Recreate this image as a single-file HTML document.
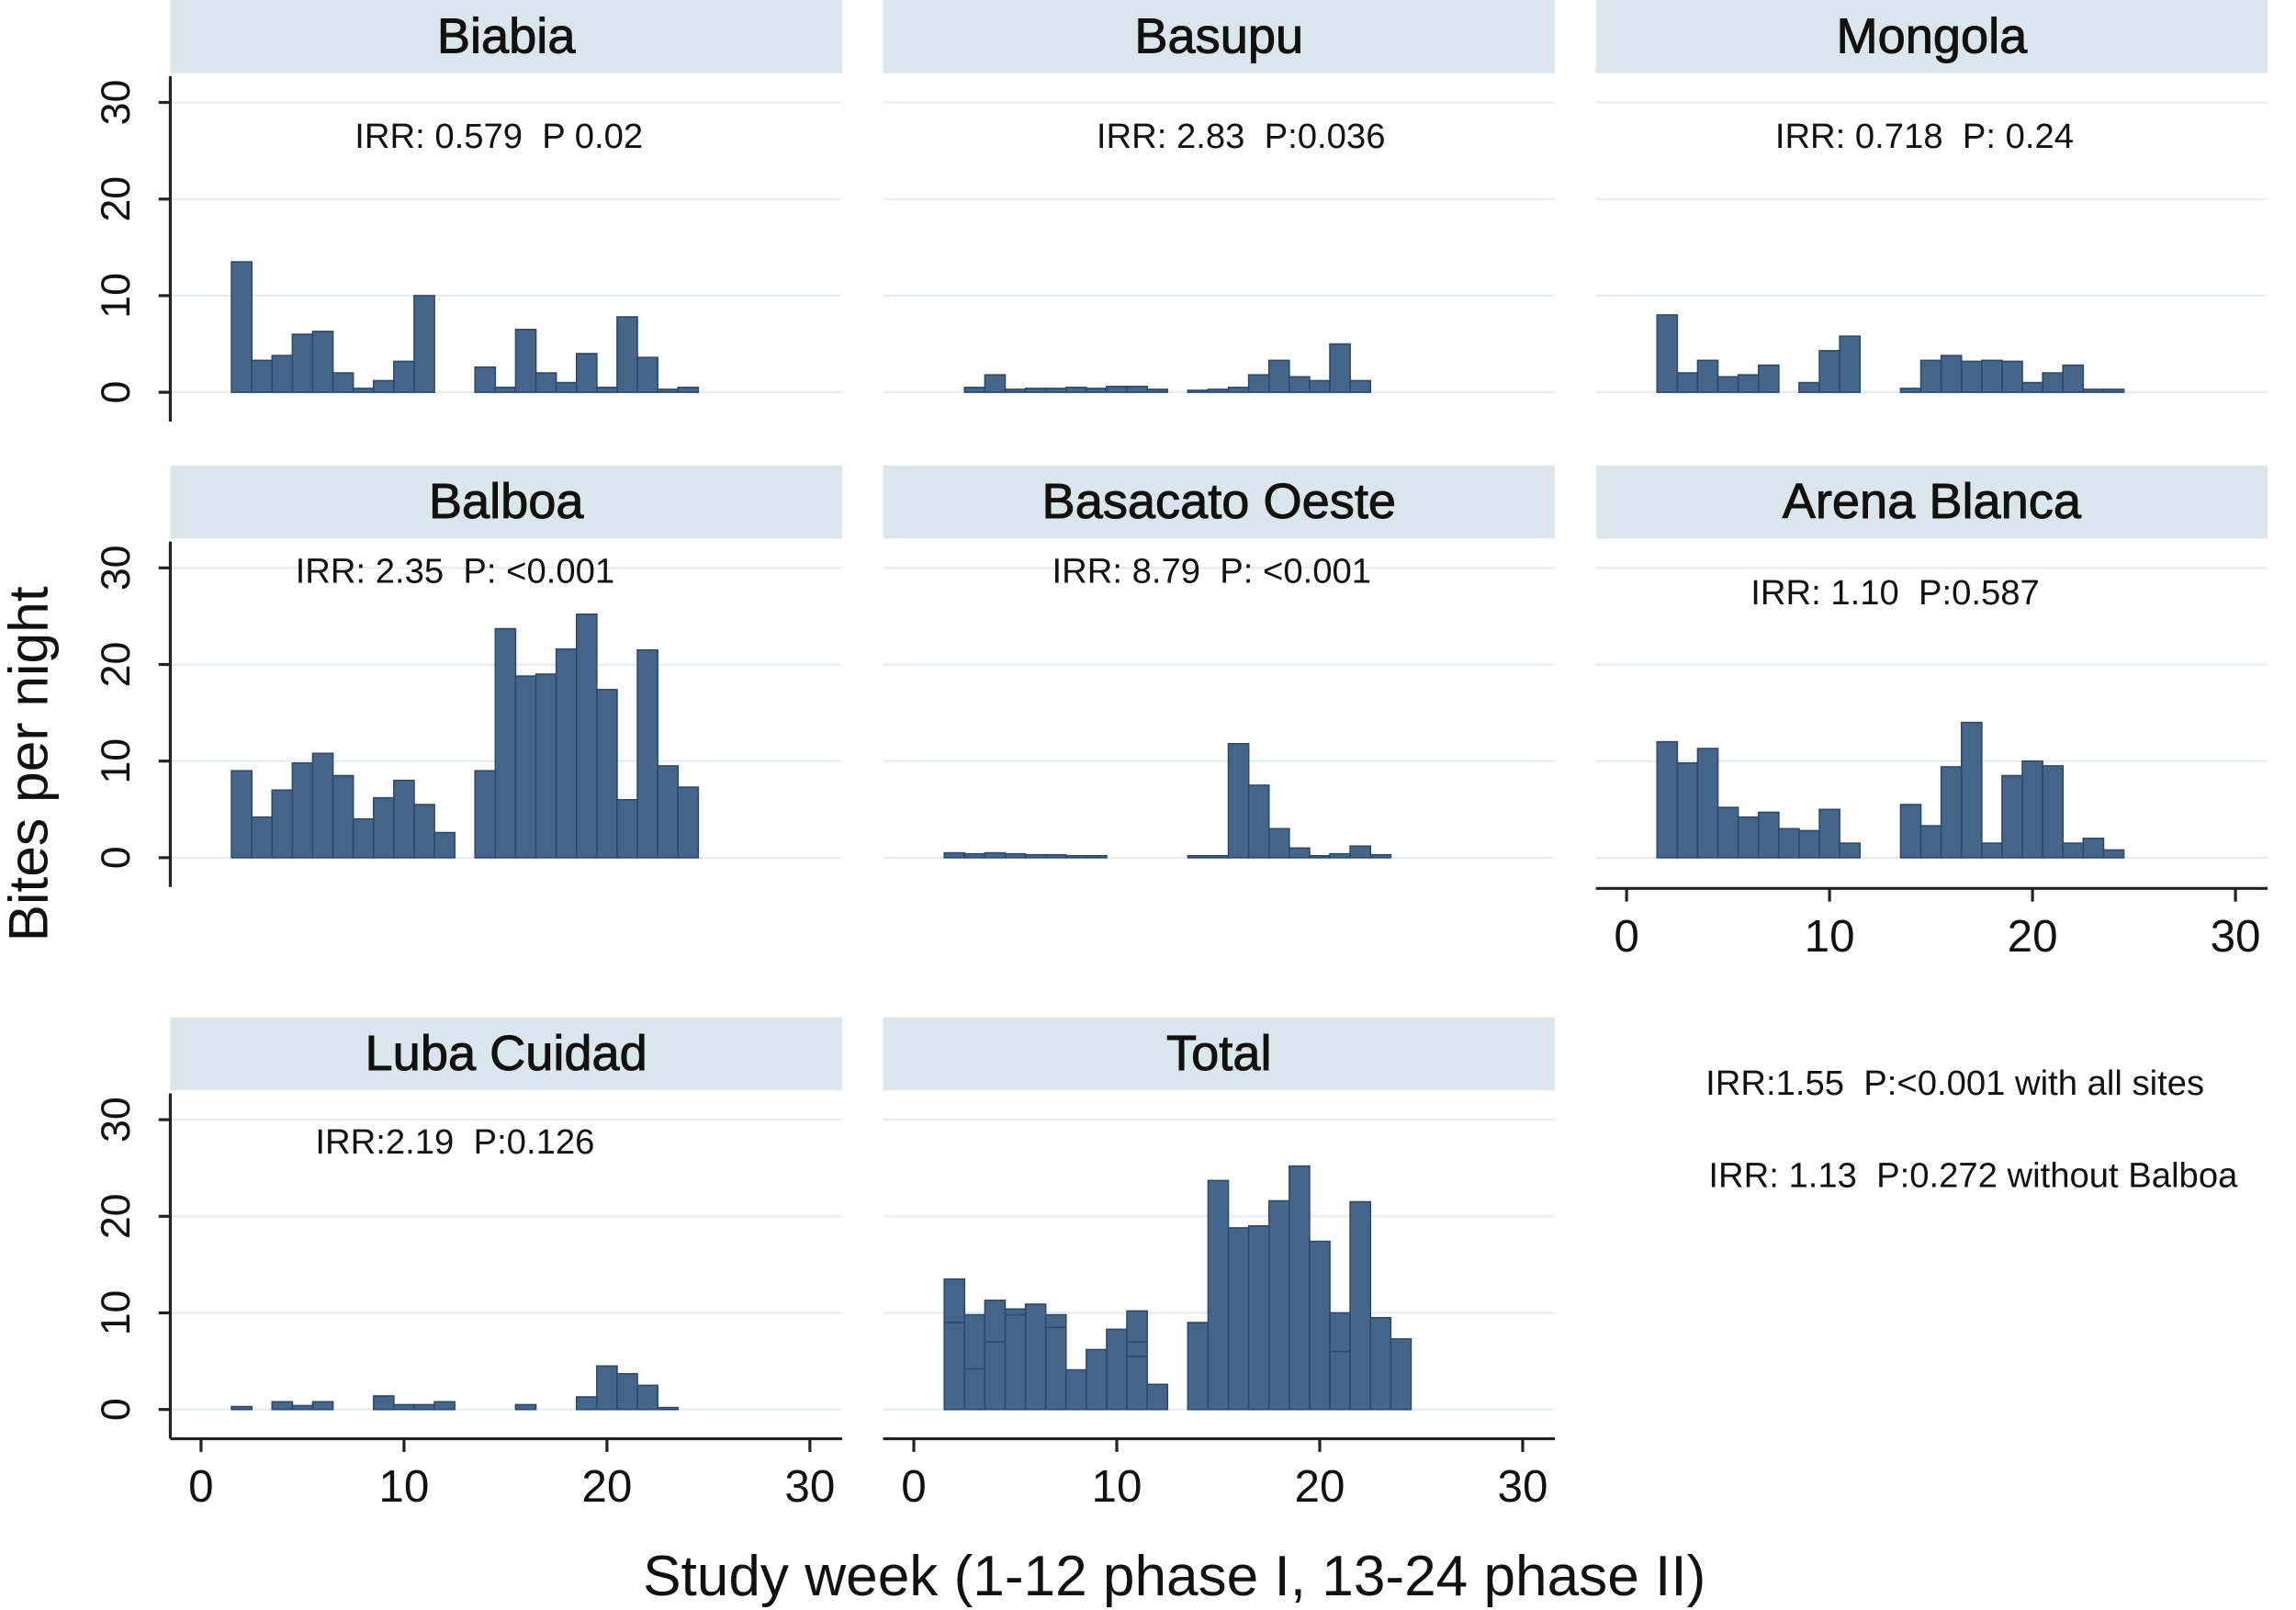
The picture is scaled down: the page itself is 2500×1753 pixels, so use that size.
<!DOCTYPE html>
<html><head><meta charset="utf-8"><style>
html,body{margin:0;padding:0;background:#fff}
svg{display:block}
text{font-family:"Liberation Sans",sans-serif;fill:#111}
</style></head><body>
<svg id="chart" width="2500" height="1753" viewBox="0 0 1568 1100" xmlns="http://www.w3.org/2000/svg">
<text transform="translate(32,522) rotate(-90)" text-anchor="middle" font-size="38">Bites per night</text>
<text x="802" y="1090" text-anchor="middle" font-size="39">Study week (1-12 phase I, 13-24 phase II)</text>
<text x="1165" y="748" font-size="24">IRR:1.55&#160;&#160;P:&lt;0.001 with all sites</text>
<text x="1167" y="811" font-size="24">IRR: 1.13&#160;&#160;P:0.272 without Balboa</text>
</svg>
<script>
const panelNames=["Biabia","Basupu","Mongola","Balboa","Basacato Oeste","Arena Blanca","Luba Cuidad","Total"];
const panelNotes=["IRR: 0.579\u00a0\u00a0P 0.02","IRR: 2.83\u00a0\u00a0P:0.036","IRR: 0.718\u00a0\u00a0P: 0.24","IRR: 2.35\u00a0\u00a0P: <0.001","IRR: 8.79\u00a0\u00a0P: <0.001","IRR: 1.10\u00a0\u00a0P:0.587","IRR:2.19\u00a0\u00a0P:0.126",""];
const weeks=[2,3,4,5,6,7,8,9,10,11,12,14,15,16,17,18,19,20,21,22,23,24];
const biabia=[13.5,3.3,3.8,6,6.3,2,0.4,1.2,3.2,10,0,2.6,0.5,6.5,2,1,4,0.5,7.8,3.6,0.3,0.5];
const basupu=[0,0.5,1.8,0.3,0.4,0.4,0.5,0.4,0.6,0.6,0.3,0.2,0.3,0.5,1.8,3.3,1.6,1.2,5,1.2,0,0];
const mongola=[8,2,3.3,1.6,1.8,2.8,0,1,4.3,5.8,0,0.4,3.3,3.8,3.2,3.3,3.2,1,2,2.8,0.3,0.3];
const balboa=[9,4.2,7,9.8,10.8,8.5,4,6.2,8,5.5,2.6,9,23.7,18.8,19,21.6,25.2,17.4,6,21.5,9.5,7.3];
const basacato=[0.5,0.4,0.5,0.4,0.3,0.3,0.2,0.2,0,0,0,0.2,0.2,11.8,7.5,3,1,0.2,0.4,1.2,0.3,0];
const arena=[12,9.8,11.3,5.2,4.2,4.7,3,2.8,5,1.5,0,5.5,3.3,9.4,14,1.5,8.5,10,9.5,1.5,2,0.8];
const luba=[0.3,0,0.8,0.4,0.8,0,0,1.4,0.5,0.5,0.8,0,0,0.5,0,0,1.3,4.5,3.7,2.5,0.2,0];
const total=[13.5,9.8,11.3,10.4,10.9,9.8,4.1,6.2,8.3,10.2,2.6,9,23.7,18.8,19,21.6,25.2,17.4,10,21.5,9.5,7.3];
const series=[biabia,basupu,mongola,balboa,basacato,arena,luba,total];
const yTicks=[0,10,20,30];
const xTicks=[0,10,20,30];

const NS="http://www.w3.org/2000/svg";
const svg=document.getElementById('chart');
const colX=[116,603,1090], rowTop=[0,318,695];
function mk(tag,attrs,parent){const e=document.createElementNS(NS,tag);for(const k in attrs)e.setAttribute(k,attrs[k]);(parent||svg).appendChild(e);return e;}
const pw=459;
function xs(c,w){return colX[c]+21+w*(416/30);}
function ys(r,v){return rowTop[r]+268-v*(198/30);}
for(let i=0;i<8;i++){
  const c=i%3,r=Math.floor(i/3),x0=colX[c],t=rowTop[r];
  const g=mk('g',{});
  
  
  const h=mk('rect',{x:x0,y:t,width:pw,height:50,fill:'#dbe5ec'},g);
  
  
  const ht=mk('text',{x:x0+pw/2,y:t+36,'text-anchor':'middle','font-size':34,stroke:'#111','stroke-width':0.6},g);ht.textContent=panelNames[i];
  
  
  yTicks.forEach(v=>{const l=mk('line',{x1:x0,x2:x0+pw,y1:ys(r,v),y2:ys(r,v),stroke:'#e6ecf0','stroke-width':1.5},g);
    
    });
  if(panelNotes[i]){const nt=mk('text',{x:x0+pw/2-5+(i==1?20:0)+(i==5?-20:0)+(i==3?-30:0)+(i==6?-30:0),y:t+(r==0?101:(r==1?(i==5?95:80):93)),'text-anchor':'middle','font-size':24},g);nt.textContent=panelNotes[i];
    
    }
  const bw=416/30;
  series[i].forEach((v,k)=>{if(v<=0)return;const y=ys(r,v);
    const b=mk('rect',{x:xs(c,weeks[k]-0.5),y:y,width:bw,height:ys(r,0)-y,fill:'#46658a',stroke:'#2c4a6d','stroke-width':1},g);
    
    
    if(i==7){let cum=0;[balboa,arena,biabia,mongola,basacato,basupu].forEach(s=>{cum+=s[k];if(cum<v-0.3){
      const sl=mk('line',{x1:xs(c,weeks[k]-0.5),x2:xs(c,weeks[k]+0.5),y1:ys(r,cum),y2:ys(r,cum),stroke:'#2c4a6d','stroke-width':1},g);
      
      }});}
  });
  if(c==0){
    const ax=mk('line',{x1:x0,x2:x0,y1:t+52,y2:t+288,stroke:'#222','stroke-width':2},g);
    
    
    yTicks.forEach(v=>{mk('line',{x1:x0-8,x2:x0,y1:ys(r,v),y2:ys(r,v),stroke:'#222','stroke-width':2},g);
      const tl=mk('text',{transform:`translate(${x0-28},${ys(r,v)}) rotate(-90)`,'text-anchor':'middle','font-size':28},g);tl.textContent=v;
      
      });
  }
  if(r==2||i==5){
    const ay=t+(r==2?288:289);
    const ax=mk('line',{x1:x0,x2:x0+pw,y1:ay,y2:ay,stroke:'#222','stroke-width':2},g);
    
    
    xTicks.forEach(v=>{mk('line',{x1:xs(c,v),x2:xs(c,v),y1:ay,y2:ay+9,stroke:'#222','stroke-width':2},g);
      const tl=mk('text',{x:xs(c,v),y:ay+43,'text-anchor':'middle','font-size':31},g);tl.textContent=v;
      
      });
  }
}
</script>
</body></html>
